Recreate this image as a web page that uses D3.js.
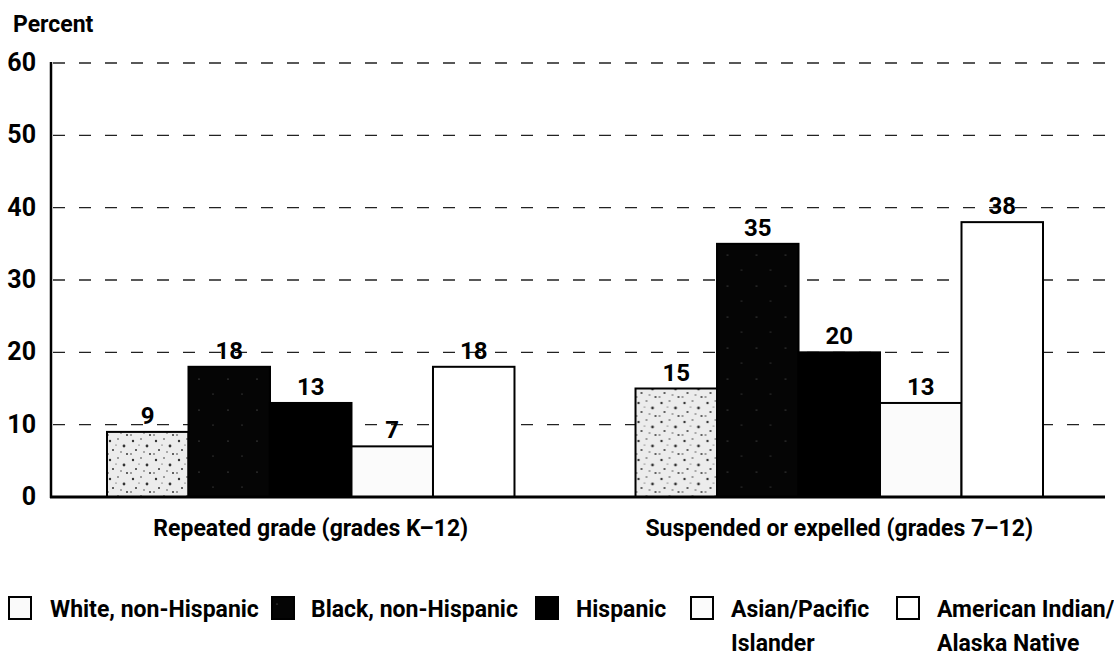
<!DOCTYPE html>
<html>
<head>
<meta charset="utf-8">
<script src="https://cdn.jsdelivr.net/npm/d3@7"></script>
<style>
  html, body { margin: 0; padding: 0; background: #fff; }
  svg { display: block; }
  text { font-family: Roboto, "Liberation Sans", Arial, sans-serif; font-weight: bold; fill: #000; }
</style>
</head>
<body>
<svg id="chart" width="1114" height="658"></svg>
<script>
// ---- data ----
const categories = ["Repeated grade (grades K\u201312)", "Suspended or expelled (grades 7\u201312)"];
const seriesNames = ["White, non-Hispanic", "Black, non-Hispanic", "Hispanic", "Asian/Pacific Islander", "American Indian/Alaska Native"];
const legendLines = [["White, non-Hispanic"], ["Black, non-Hispanic"], ["Hispanic"], ["Asian/Pacific", "Islander"], ["American Indian/", "Alaska Native"]];
const whiteVals = [9, 15];
const blackVals = [18, 35];
const hispanicVals = [13, 20];
const asianVals = [7, 13];
const amIndianVals = [18, 38];
const yTicks = [0, 10, 20, 30, 40, 50, 60];
const seriesFills = ["url(#speckle)", "url(#darkspeckle)", "#000", "#fbfbfb", "#fff"];

const seriesValues = [whiteVals, blackVals, hispanicVals, asianVals, amIndianVals];

const svg = d3.select("#chart");
const defs = svg.append("defs");

// speckled light fill
const sp = defs.append("pattern").attr("id", "speckle").attr("patternUnits", "userSpaceOnUse")
  .attr("width", 23).attr("height", 19);
sp.append("rect").attr("width", 23).attr("height", 19).attr("fill", "#ececec");
[[3,4,1.2],[11,2,0.8],[17,9,1.4],[6,13,1],[14,15,0.7],[20,17,1],[9,8,0.6],[1,17,0.8]].forEach(d => {
  sp.append("circle").attr("cx", d[0]).attr("cy", d[1]).attr("r", d[2]).attr("fill", "#333");
});
const dsp = defs.append("pattern").attr("id", "darkspeckle").attr("patternUnits", "userSpaceOnUse")
  .attr("width", 29).attr("height", 31);
dsp.append("rect").attr("width", 29).attr("height", 31).attr("fill", "#050505");
[[5,7,0.6],[19,22,0.5]].forEach(d => {
  dsp.append("circle").attr("cx", d[0]).attr("cy", d[1]).attr("r", d[2]).attr("fill", "#777");
});

const y = d3.scaleLinear().domain([0, 60]).range([497, 63]);
const x0 = d3.scaleBand().domain(categories).range([107, 1043]).paddingInner(0.229).paddingOuter(0);
const x1 = d3.scaleBand().domain(seriesNames).range([0, x0.bandwidth()]).padding(0);

const axisLeftX = 51, axisRightX = 1105;

// gridlines
svg.append("g").selectAll("line").data(yTicks.filter(t => t > 0)).join("line")
  .attr("x1", axisLeftX + 2).attr("x2", axisRightX)
  .attr("y1", d => y(d)).attr("y2", d => y(d))
  .attr("stroke", "#222").attr("stroke-width", 1.3).attr("stroke-dasharray", "12,14");

// y axis via d3
const yAxis = d3.axisLeft(y).tickValues(yTicks).tickSize(0).tickPadding(15).tickFormat(d3.format("d"));
const gy = svg.append("g").attr("transform", `translate(${axisLeftX},0)`).call(yAxis);
gy.select(".domain").remove();
gy.selectAll("text").attr("font-size", 25).attr("font-family", "Roboto, 'Liberation Sans', sans-serif")
  .attr("font-weight", "bold").attr("fill", "#000").attr("dy", "0.3em");

svg.append("line").attr("x1", axisLeftX).attr("x2", axisLeftX).attr("y1", y(60) - 1).attr("y2", y(0) + 1)
  .attr("stroke", "#000").attr("stroke-width", 2.5);

svg.append("text").attr("x", 13).attr("y", 32).attr("font-size", 23).text("Percent");

// bars
const groups = svg.append("g").selectAll("g").data(categories).join("g")
  .attr("transform", d => `translate(${x0(d)},0)`);
groups.each(function(cat, ci) {
  const g = d3.select(this);
  const rows = seriesNames.map((s, si) => ({ s, si, v: seriesValues[si][ci] }));
  g.selectAll("rect").data(rows).join("rect")
    .attr("x", d => x1(d.s)).attr("width", x1.bandwidth())
    .attr("y", d => y(d.v)).attr("height", d => y(0) - y(d.v))
    .attr("fill", d => seriesFills[d.si])
    .attr("stroke", "#000").attr("stroke-width", 2);
  g.selectAll("text.val").data(rows).join("text").attr("class", "val")
    .attr("x", d => x1(d.s) + x1.bandwidth() / 2).attr("y", d => y(d.v) - 8)
    .attr("text-anchor", "middle").attr("font-size", 24).text(d => d.v);
});

// baseline
svg.append("line").attr("x1", axisLeftX - 1).attr("x2", axisRightX).attr("y1", y(0)).attr("y2", y(0))
  .attr("stroke", "#000").attr("stroke-width", 3);

// category labels
const xAxis = d3.axisBottom(x0).tickSize(0).tickPadding(0);
const gx = svg.append("g").attr("transform", `translate(0,${y(0)})`).call(xAxis);
gx.select(".domain").remove();
gx.selectAll("text").attr("font-size", 23).attr("font-family", "Roboto, 'Liberation Sans', sans-serif")
  .attr("font-weight", "bold").attr("fill", "#000").attr("dy", null).attr("y", 39);

// legend
const legendX = [9, 272, 536, 691, 897];
const lg = svg.append("g").selectAll("g").data(seriesNames).join("g")
  .attr("transform", (d, i) => `translate(${legendX[i]},597)`);
lg.append("rect").attr("width", 22).attr("height", 22)
  .attr("fill", (d, i) => i === 0 ? "#fafafa" : seriesFills[i])
  .attr("stroke", "#000").attr("stroke-width", 2);
lg.each(function(d, i) {
  const t = d3.select(this).append("text").attr("x", i === 0 ? 41 : (i === 1 ? 39 : 40)).attr("y", 20).attr("font-size", 23);
  legendLines[i].forEach((ln, li) => {
    t.append("tspan").attr("x", i === 0 ? 41 : (i === 1 ? 39 : 40)).attr("dy", li === 0 ? 0 : 34).text(ln);
  });
});
</script>
</body>
</html>
